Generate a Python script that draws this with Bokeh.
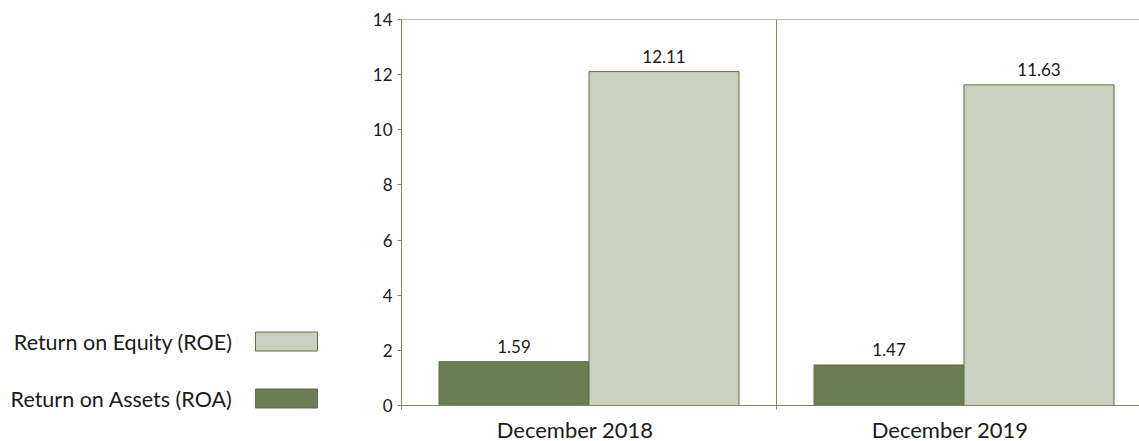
from bokeh.plotting import figure
from bokeh.layouts import row, column
from bokeh.models import Range1d, FixedTicker, Span, ColumnDataSource, LabelSet
from bokeh.embed import file_html
from bokeh.resources import INLINE
from bokeh.core.properties import value

# Profitability ratios (%) per reporting period
periods = ["December 2018", "December 2019"]
roa = [1.59, 1.47]
roe = [12.11, 11.63]
legend_labels = ["Return on Equity (ROE)", "Return on Assets (ROA)"]
y_ticks = [0, 2, 4, 6, 8, 10, 12, 14]

FONT = "Lato"
ROA_FILL = "#6b7d52"
ROE_FILL = "#c9d0c0"
EDGE = "#5f6f42"
AXIS = "#7d8c63"
TEXT = "#1a1a1a"

W, H = 1139, 441
LEG_W = 330
TOP, BOTTOM = 19, 36
BAR_W = 0.4
LABEL_NUDGE = 0.037  # category labels sit slightly left of the group centre

# numeric category axis: each period occupies one unit
centers = [i + 0.5 for i in range(len(periods))]
roa_x = [c - BAR_W / 2 for c in centers]
roe_x = [c + BAR_W / 2 for c in centers]
label_pos = [round(c - LABEL_NUDGE, 3) for c in centers]

src_roa = ColumnDataSource(dict(x=roa_x, top=roa, lbl=[f"{v:.2f}" for v in roa]))
src_roe = ColumnDataSource(dict(x=roe_x, top=roe, lbl=[f"{v:.2f}" for v in roe]))

p = figure(frame_width=738, frame_height=H - TOP - BOTTOM,
           output_backend="svg", toolbar_location=None,
           x_range=Range1d(0, 1.968), y_range=Range1d(0, 14),
           min_border_left=71, min_border_right=0, min_border_top=TOP,
           min_border_bottom=BOTTOM)
p.outline_line_color = None
p.background_fill_color = "white"
p.border_fill_color = "white"

p.vbar(x="x", top="top", width=BAR_W, source=src_roa,
       fill_color=ROA_FILL, line_color=EDGE, line_width=1)
p.vbar(x="x", top="top", width=BAR_W, source=src_roe,
       fill_color=ROE_FILL, line_color=EDGE, line_width=1)

for src in (src_roa, src_roe):
    p.add_layout(LabelSet(x="x", y="top", text="lbl", source=src,
                          text_align="center", text_baseline="bottom",
                          y_offset=9, text_font=value(FONT),
                          text_font_size="17px", text_color=TEXT))

# y axis
p.yaxis.ticker = FixedTicker(ticks=y_ticks)
p.yaxis.axis_line_color = AXIS
p.yaxis.major_tick_line_color = AXIS
p.yaxis.major_tick_in = 0
p.yaxis.major_tick_out = 4
p.yaxis.minor_tick_line_color = None
p.yaxis.major_label_standoff = 5
p.yaxis.major_label_text_font = FONT
p.yaxis.major_label_text_font_size = "17px"
p.yaxis.major_label_text_color = TEXT

# x axis: period names under each group, tick marks at group boundaries
p.xaxis.ticker = FixedTicker(ticks=label_pos, minor_ticks=[0, 1, 2])
p.xaxis.major_label_overrides = {c: name for c, name in zip(label_pos, periods)}
p.xaxis.axis_line_color = AXIS
p.xaxis.major_tick_line_color = None
p.xaxis.minor_tick_line_color = AXIS
p.xaxis.minor_tick_in = 0
p.xaxis.minor_tick_out = 4
p.xaxis.major_label_standoff = 4
p.xaxis.major_label_text_font = FONT
p.xaxis.major_label_text_font_size = "22px"
p.xaxis.major_label_text_color = TEXT

p.ygrid.grid_line_color = None
p.xgrid.ticker = FixedTicker(ticks=[1])
p.xgrid.grid_line_color = AXIS
p.xgrid.grid_line_alpha = 1

p.add_layout(Span(location=14, dimension="width", line_color=AXIS, line_width=1))

# legend panel: label text to the left of each swatch (y in page pixels)
leg = figure(width=LEG_W, height=H, output_backend="svg", toolbar_location=None,
             x_range=Range1d(0, LEG_W), y_range=Range1d(H, 0),
             min_border=0, x_axis_location=None, y_axis_location=None)
leg.grid.grid_line_color = None
leg.outline_line_color = None
leg_src = ColumnDataSource(dict(
    lbl=legend_labels,
    fill=[ROE_FILL, ROA_FILL],
    y=[341, 398],
))
leg.rect(x=286, y="y", width=62, height=19, source=leg_src,
         fill_color="fill", line_color=EDGE, line_width=1)
leg.text(x=232, y="y", text="lbl", source=leg_src, text_align="right",
         text_baseline="middle", text_font=value(FONT),
         text_font_size="21.5px", text_color=TEXT)

layout = row(column(leg), p, spacing=0)
open("out.html", "w").write(file_html(layout, INLINE))
